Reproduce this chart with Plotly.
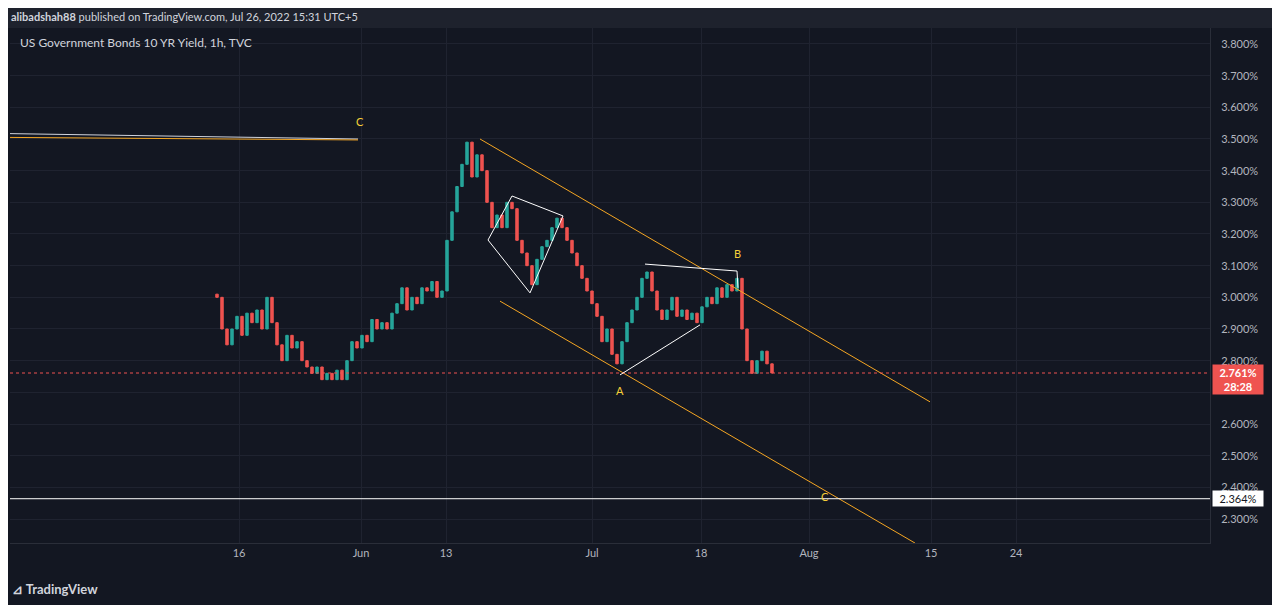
import plotly.graph_objects as go

closes = [3.00,2.90,2.85,2.90,2.94,2.88,2.95,2.92,2.96,2.90,3.00,2.92,2.85,2.80,2.88,2.84,2.86,2.80,2.78,2.76,
          2.78,2.74,2.76,2.74,2.77,2.74,2.80,2.86,2.84,2.88,2.86,2.93,2.90,2.92,2.90,2.95,2.98,3.03,2.96,3.00,
          2.98,3.03,3.02,3.05,3.00,3.02,3.18,3.27,3.35,3.42,3.49,3.38,3.45,3.40,3.30,3.22,3.26,3.22,3.30,3.28,
          3.18,3.14,3.10,3.04,3.12,3.16,3.18,3.22,3.25,3.22,3.18,3.14,3.10,3.06,3.02,2.98,2.94,2.86,2.90,2.82,
          2.79,2.86,2.92,2.96,3.00,3.06,3.08,3.02,2.96,2.93,2.96,3.00,2.94,2.96,2.93,2.95,2.92,2.97,3.00,2.98,
          3.03,3.00,3.04,3.02,3.06,2.90,2.80,2.76,2.80,2.83,2.79,2.761]
first_open = 3.01
opens = [first_open] + closes[:-1]
highs = [max(o, c) for o, c in zip(opens, closes)]
lows = [min(o, c) for o, c in zip(opens, closes)]
idx = list(range(len(closes)))

tick_vals = [4.4, 28.8, 45.8, 75, 96.8, 118.4, 142.8, 159.8]
tick_text = ["16", "Jun", "13", "Jul", "18", "Aug", "15", "24"]
y_ticks = [3.8, 3.7, 3.6, 3.5, 3.4, 3.3, 3.2, 3.1, 3.0, 2.9, 2.8, 2.7, 2.6, 2.5, 2.4, 2.3]

last_price = 2.761
target = 2.364
BG = "#131722"
fig = go.Figure(go.Candlestick(x=idx, open=opens, high=highs, low=lows, close=closes,
    increasing=dict(line=dict(color="#26a69a", width=1), fillcolor="#26a69a"),
    decreasing=dict(line=dict(color="#ef5350", width=1), fillcolor="#ef5350"),
    whiskerwidth=0, showlegend=False))

OR = "#f5a623"
shapes = [
    dict(type="line", x0=-41.4, x1=28.2, y0=3.517, y1=3.50, line=dict(color="#d1d4dc", width=1)),
    dict(type="line", x0=-41.4, x1=28.2, y0=3.505, y1=3.497, line=dict(color=OR, width=1)),
    dict(type="line", x0=52.6, x1=142.6, y0=3.50, y1=2.67, line=dict(color=OR, width=1)),
    dict(type="line", x0=56.6, x1=139.6, y0=2.988, y1=2.224, line=dict(color=OR, width=1)),
    dict(type="line", x0=-41.4, x1=198.6, y0=target, y1=target, line=dict(color="#ffffff", width=1)),
    dict(type="line", x0=-41.4, x1=198.6, y0=last_price, y1=last_price, line=dict(color="#ef5350", width=1, dash="dot")),
    dict(type="path", path="M 59,3.32 L 69.2,3.257 L 62.6,3.014 L 54.2,3.181 Z", line=dict(color="#ffffff", width=1)),
    dict(type="line", x0=80.6, x1=96.6, y0=2.755, y1=2.913, line=dict(color="#ffffff", width=1)),
    dict(type="line", x0=85.6, x1=104, y0=3.105, y1=3.083, line=dict(color="#ffffff", width=1)),
    dict(type="line", x0=104, x1=104.2, y0=3.083, y1=3.03, line=dict(color="#ffffff", width=1)),
]
for s in shapes:
    s["layer"] = "above"
fig.update_layout(shapes=shapes)

Y = "#f7d038"
for t, x, y in [("C", 28.6, 3.554), ("B", 104, 3.137), ("A", 80.6, 2.707), ("C", 121.6, 2.372)]:
    fig.add_annotation(x=x, y=y, text=t, showarrow=False, font=dict(color=Y, size=11, family="Lato"))

fig.add_annotation(xref="paper", yref="paper", x=0.0066, y=0.99, xanchor="left", yanchor="top",
    text="US Government Bonds 10 YR Yield, 1h, TVC", showarrow=False, font=dict(color="#d1d4dc", size=12, family="Lato"))
fig.add_annotation(xref="paper", yref="y", x=1.0, y=last_price, xanchor="left", yanchor="middle",
    text="<b>2.761%</b><br><b>28:28</b>", showarrow=False, bgcolor="#ef5350", font=dict(color="white", size=11, family="Lato"),
    xshift=2, yshift=-6, borderpad=1, width=48, align="center")
fig.add_annotation(xref="paper", yref="y", x=1.0, y=target, xanchor="left", yanchor="middle",
    text="2.364%", showarrow=False, bgcolor="#ffffff", font=dict(color="#131722", size=11, family="Lato"),
    xshift=2, borderpad=1, width=48)
fig.add_annotation(xref="paper", yref="paper", x=0.0, y=1.0, xanchor="left", yanchor="middle", yshift=12,
    text="<b>alibadshah88</b> published on TradingView.com, Jul 26, 2022 15:31 UTC+5", showarrow=False,
    font=dict(color="#d1d4dc", size=11, family="Lato"), borderpad=0)
fig.add_annotation(xref="paper", yref="paper", x=0.0, y=0, xanchor="left", yanchor="top", yshift=-36,
    text="<b>⊿ TradingView</b>", showarrow=False, font=dict(color="#d1d4dc", size=13, family="Lato"))

fig.update_layout(
    width=1272, height=597, paper_bgcolor=BG, plot_bgcolor=BG,
    margin=dict(l=2, r=70, t=20, b=62),
    xaxis=dict(range=[-41.4, 198.6], tickvals=tick_vals, ticktext=tick_text, rangeslider=dict(visible=False),
               gridcolor="#1f2330", showline=True, linecolor="#2a2e39", tickfont=dict(color="#b2b5be", size=11, family="Lato"),
               zeroline=False, ticks=""),
    yaxis=dict(range=[2.2242, 3.8505], side="right", tickvals=y_ticks,
               ticktext=["" if abs(v - 2.7) < 1e-9 else f"{v:.3f}%" for v in y_ticks],
               gridcolor="#1f2330", showline=True, linecolor="#2a2e39", tickfont=dict(color="#b2b5be", size=11, family="Lato"),
               zeroline=False, ticks="", ticklabelstandoff=8),
)
fig.add_shape(type="rect", xref="paper", yref="paper", x0=-0.01, x1=1.06, y0=1.0, y1=1.06, fillcolor="#1e222d",
              line=dict(width=0), layer="below")
fig.write_html("out.html")
